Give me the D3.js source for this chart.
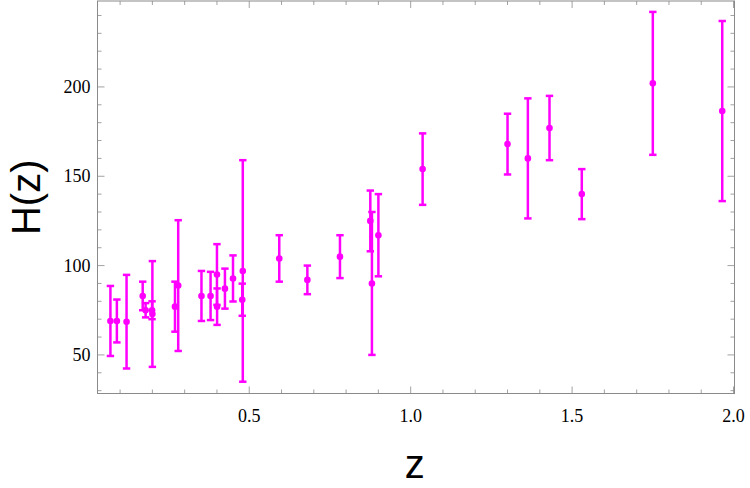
<!DOCTYPE html>
<html>
<head>
<meta charset="utf-8">
<script src="https://cdn.jsdelivr.net/npm/d3@7"></script>
<style>
  body { margin: 0; background: #fff; }
  svg { display: block; }
</style>
</head>
<body>
<div id="chart"></div>
<script>
// redshift, H(z) and its error
const zValues = [0.07, 0.09, 0.12, 0.17, 0.179, 0.199, 0.2, 0.27, 0.28, 0.352,
    0.3802, 0.4, 0.4004, 0.4247, 0.4497, 0.4783, 0.48, 0.593, 0.68, 0.781,
    0.875, 0.88, 0.9, 1.037, 1.3, 1.363, 1.43, 1.53, 1.75, 1.965];
const hValues = [69, 69, 68.6, 83, 75, 75, 72.9, 77, 88.8, 83,
    83, 95, 77, 87.1, 92.8, 80.9, 97, 104, 92, 105,
    125, 90, 117, 154, 168, 160, 177, 140, 202, 186.5];
const hErrors = [19.6, 12, 26.2, 8, 4, 5, 29.6, 14, 36.6, 14,
    13.5, 17, 10.2, 11.2, 12.9, 9, 62, 13, 8, 12,
    17, 40, 23, 20, 17, 33.6, 18, 14, 40, 50.4];

const xTickLabels = [0.5, 1.0, 1.5, 2.0];
const yTickLabels = [50, 100, 150, 200];

const data = zValues.map((z, i) => ({ z: z, h: hValues[i], err: hErrors[i] }));

const W = 750, H = 488;
const margin = { top: 1, right: 15.5, bottom: 94.5, left: 97.5 };
const width = W - margin.left - margin.right;
const height = H - margin.top - margin.bottom;

const svg = d3.select("#chart")
    .append("svg")
    .attr("width", W)
    .attr("height", H);

const g = svg.append("g")
    .attr("transform", `translate(${margin.left},${margin.top})`);

const x = d3.scaleLinear().domain([0.03, 2.003]).range([0, width]);
const y = d3.scaleLinear().domain([28.4, 248.1]).range([height, 0]);

const frameColor = "#8a8a8a";
const serif = "'Liberation Serif', 'Times New Roman', serif";

// minor / major ticks on all four sides (Mathematica frame style)
const xMinor = d3.range(0.1, 2.001, 0.1).filter(v => v >= x.domain()[0]);
const yMinor = d3.range(30, 250, 10);

function isMajor(v, step) {
    return Math.abs(v / step - Math.round(v / step)) < 1e-6;
}

xMinor.forEach(v => {
    const len = isMajor(v, 0.5) ? 7 : 4;
    g.append("line").attr("x1", x(v)).attr("x2", x(v))
        .attr("y1", height).attr("y2", height - len)
        .attr("stroke", frameColor).attr("stroke-width", 0.8);
    g.append("line").attr("x1", x(v)).attr("x2", x(v))
        .attr("y1", 0).attr("y2", len)
        .attr("stroke", frameColor).attr("stroke-width", 0.8);
});
yMinor.forEach(v => {
    const len = isMajor(v, 50) ? 7 : 4;
    g.append("line").attr("x1", 0).attr("x2", len)
        .attr("y1", y(v)).attr("y2", y(v))
        .attr("stroke", frameColor).attr("stroke-width", 0.8);
    g.append("line").attr("x1", width).attr("x2", width - len)
        .attr("y1", y(v)).attr("y2", y(v))
        .attr("stroke", frameColor).attr("stroke-width", 0.8);
});

// frame
g.append("rect")
    .attr("x", 0).attr("y", 0)
    .attr("width", width).attr("height", height)
    .attr("fill", "none")
    .attr("stroke", frameColor)
    .attr("stroke-width", 1);

// tick labels
g.selectAll(".xlab")
    .data(xTickLabels)
    .enter()
    .append("text")
    .attr("class", "xlab")
    .attr("x", d => x(d))
    .attr("y", height + 28)
    .attr("text-anchor", "middle")
    .style("font-family", serif)
    .style("font-size", "18px")
    .text(d => d.toFixed(1));

g.selectAll(".ylab")
    .data(yTickLabels)
    .enter()
    .append("text")
    .attr("class", "ylab")
    .attr("x", -7)
    .attr("y", d => y(d))
    .attr("dy", "0.34em")
    .attr("text-anchor", "end")
    .style("font-family", serif)
    .style("font-size", "18px")
    .text(d => d);

// axis titles
svg.append("text")
    .attr("x", margin.left + x(1.0) + 4)
    .attr("y", 478)
    .attr("text-anchor", "middle")
    .style("font-family", "'Liberation Sans', Arial, sans-serif")
    .style("font-size", "40px")
    .text("z");

svg.append("text")
    .attr("transform", `translate(40,${margin.top + height / 2}) rotate(-90)`)
    .attr("text-anchor", "middle")
    .style("font-family", "'Liberation Sans', Arial, sans-serif")
    .style("font-size", "40px")
    .text("H(z)");

// error bars
const magenta = "#ff00ff";
const cap = 3.7;

const bars = g.selectAll(".err")
    .data(data)
    .enter()
    .append("g")
    .attr("class", "err")
    .attr("stroke", magenta)
    .attr("stroke-width", 2.5);

bars.append("line")
    .attr("x1", d => x(d.z)).attr("x2", d => x(d.z))
    .attr("y1", d => y(d.h - d.err)).attr("y2", d => y(d.h + d.err));
bars.append("line")
    .attr("x1", d => x(d.z) - cap).attr("x2", d => x(d.z) + cap)
    .attr("y1", d => y(d.h + d.err)).attr("y2", d => y(d.h + d.err));
bars.append("line")
    .attr("x1", d => x(d.z) - cap).attr("x2", d => x(d.z) + cap)
    .attr("y1", d => y(d.h - d.err)).attr("y2", d => y(d.h - d.err));

g.selectAll(".pt")
    .data(data)
    .enter()
    .append("circle")
    .attr("class", "pt")
    .attr("cx", d => x(d.z))
    .attr("cy", d => y(d.h))
    .attr("r", 3.3)
    .attr("fill", magenta);
</script>
</body>
</html>
